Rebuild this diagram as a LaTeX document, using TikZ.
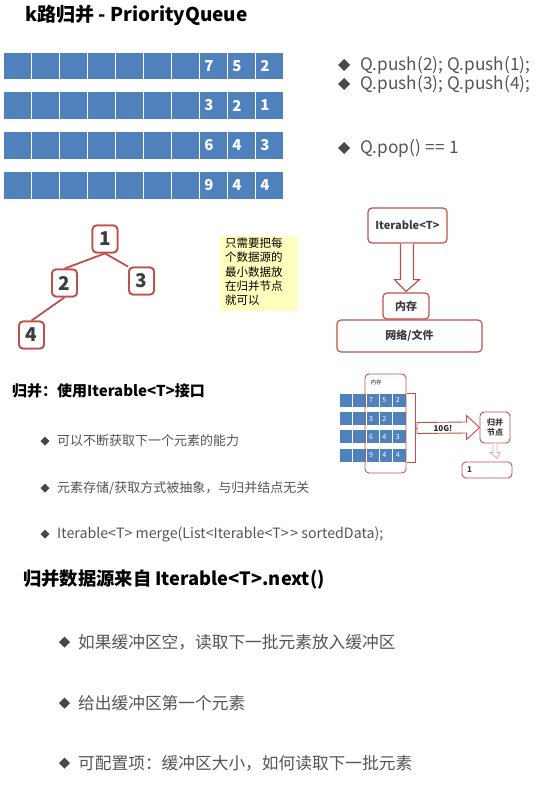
\documentclass[tikz,border=0pt]{standalone}
\usepackage{fontspec}
\setmainfont{Noto Sans CJK SC}[Ligatures=NoCommon]
\usetikzlibrary{calc}
\definecolor{cellblue}{RGB}{79,129,189}
\definecolor{nodered}{RGB}{192,80,77}
\definecolor{notey}{RGB}{255,255,190}
\definecolor{txtgray}{RGB}{85,85,85}
\definecolor{dark}{RGB}{40,40,40}
\tikzset{
  cell/.style={fill=cellblue, draw=white, line width=1pt, minimum width=28pt, minimum height=27.5pt, inner sep=0pt},
  digit/.style={text=white, font=\bfseries\fontsize{15}{15}\selectfont, inner sep=0pt},
  scell/.style={fill=cellblue, draw=white, line width=0.6pt, minimum width=13.4pt, minimum height=14pt, inner sep=0pt},
  sdigit/.style={text=white, font=\fontsize{7}{7}\selectfont, inner sep=0pt},
  treenode/.style={draw=nodered, line width=1.8pt, rounded corners=4pt, fill=white, minimum width=25pt, minimum height=27pt, inner sep=0pt, text=dark!90, font=\bfseries\fontsize{19}{19}\selectfont},
  treeedge/.style={draw=nodered, line width=1.8pt},
  redbox/.style={draw=nodered, line width=1.2pt, rounded corners=4pt, fill=white, inner sep=0pt, text=dark!90},
  txt/.style={anchor=west, inner sep=0pt},
  bul/.style={fill=dark!85, draw=none},
}
\newcommand{\diam}[3]{\fill[bul] (#1,#2) -- ++(#3,#3) -- ++(#3,-#3) -- ++(-#3,-#3) -- cycle;}
\begin{document}
\begin{tikzpicture}[x=1pt,y=-1pt]
\useasboundingbox (0,0) rectangle (546,797);
\fill[white] (0,0) rectangle (546,797);
% title
\node[txt] (title) at (25,15) {\bfseries\fontsize{19}{19}\selectfont k路归并 - PriorityQueue};
% big rows
\foreach \r/\yy/\a/\b/\c in {1/66/7/5/2, 2/105.5/3/2/1, 3/145.5/6/4/3, 4/185.5/9/4/4} {
  \foreach \i in {0,...,9} {
    \node[cell] (c\r-\i) at ({17+28*\i},\yy) {};
  }
  \node[digit] (d\r-7) at ($(c\r-7.center)+(-4,0)$) {\a};
  \node[digit] (d\r-8) at ($(c\r-8.center)+(-4,0)$) {\b};
  \node[digit] (d\r-9) at ($(c\r-9.center)+(-4,0)$) {\c};
}
% right bullets
\diam{338}{65}{6}
\diam{338}{84}{6}
\diam{338}{148}{6}
\node[txt, text=txtgray] (q1) at (360,65) {\fontsize{17.2}{17}\selectfont Q.push(2); Q.push(1);};
\node[txt, text=txtgray] (q2) at (360,84) {\fontsize{17.2}{17}\selectfont Q.push(3); Q.push(4);};
\node[txt, text=txtgray] (q3) at (360,148) {\fontsize{17.2}{17}\selectfont Q.pop()\kern1pt{} ==\kern1pt{} 1};
% tree
\node[treenode] (t1) at (105,239) {1};
\node[treenode] (t2) at (64.5,283) {2};
\node[treenode] (t3) at (141.5,281) {3};
\node[treenode] (t4) at (31.5,335) {4};
\draw[treeedge] (t1.south) -- (t3.north west);
\draw[treeedge] (t1.south) -- (t2.north);
\draw[treeedge] (t2.south) -- (t4.north);
\node[treenode] at (t1) {1};
\node[treenode] at (t2) {2};
\node[treenode] at (t3) {3};
\node[treenode] at (t4) {4};
% note
\node[fill=notey, minimum width=78pt, minimum height=75pt, inner sep=0pt] (note) at (259,273.5) {};
\node[anchor=north west, inner sep=0pt, align=left, text=black, font=\fontsize{11.5}{14.3}\selectfont] (notetxt) at (225,237.5) {只需要把每\\个数据源的\\最小数据放\\在归并节点\\就可以};
% iterable section
\node[redbox, minimum width=79pt, minimum height=35pt, font=\bfseries\fontsize{11}{11}\selectfont] (iter) at (407.5,225.5) {Iterable<T>};
\node[redbox, minimum width=145pt, minimum height=32pt, font=\bfseries\fontsize{11}{11}\selectfont] (net) at (409.5,336) {网络/文件};
\node[redbox, minimum width=46pt, minimum height=26pt, font=\bfseries\fontsize{11}{11}\selectfont] (mem) at (406,306) {内存};
\draw[draw=nodered, line width=1.2pt, fill=white] ($(iter.south)+(-7,0)$) -- ++(0,36) -- ++(-6,0) -- ($(mem.north)+(0,-1)$) -- ($(iter.south)+(12,36)$) -- ++(-6,0) -- ($(iter.south)+(6,0)$);
% small diagram
\foreach \r/\yy/\a/\b/\c in {1/400/7/5/2, 2/418.5/3/2/{}, 3/436.5/6/4/3, 4/455/9/4/4} {
  \foreach \i in {0,...,4} {
    \node[scell] (s\r-\i) at ({345.7+13.4*\i},\yy) {};
  }
  \node[sdigit] (sd\r-2) at ($(s\r-2.center)+(-1.5,0)$) {\a};
  \node[sdigit] (sd\r-3) at ($(s\r-3.center)+(-1.5,0)$) {\b};
  \node[sdigit] (sd\r-4) at ($(s\r-4.center)+(-1.5,0)$) {\c};
}
\node[draw=nodered, line width=0.9pt, rounded corners=4pt, minimum width=41pt, minimum height=99pt, inner sep=0pt] (smem) at (385.5,423.5) {};
\node[inner sep=0pt, font=\fontsize{5.5}{5.5}\selectfont, text=dark] (smemt) at (376,382) {内存};
\coordinate (brt) at (407,393);
\coordinate (brb) at (407,462);
\draw[draw=nodered, line width=0.9pt] (brt) -- ++(8,0) -- ++(0,69) -- (brb);
\node[redbox, line width=0.9pt, minimum width=30pt, minimum height=31pt, font=\bfseries\fontsize{8}{10}\selectfont, align=center] (gb) at (495,427.5) {归并\\节点};
\coordinate (arrs) at (415,428);
\draw[draw=nodered, line width=0.9pt, fill=white] ($(arrs)+(2,-5.5)$) -- ($(gb.west)+(-13,-5.5)$) -- ($(gb.west)+(-13,-12)$) -- (gb.west) -- ($(gb.west)+(-13,12)$) -- ($(gb.west)+(-13,5.5)$) -- ($(arrs)+(2,5.5)$) -- cycle;
\draw[draw=nodered, line width=0.9pt] (arrs) -- ++(2,0);
\node[inner sep=0pt, font=\bfseries\fontsize{8}{8}\selectfont, text=dark] (tenG) at (443,428) {10G!};
\node[redbox, line width=0.9pt, minimum width=50pt, minimum height=16pt, font=\bfseries\fontsize{8}{8}\selectfont, align=left, text width=40pt] (one) at (487,470) {1};
\draw[draw=nodered!50, line width=0.8pt, fill=white] ($(gb.south)+(-2,0)$) -- ++(0,9) -- ++(-3,0) -- ($(one.north)+(10,-3)$) -- ($(gb.south)+(5,9)$) -- ++(-3,0) -- ($(gb.south)+(2,0)$);
% left section
\node[txt, text=black] (h1) at (12,391) {\bfseries\fontsize{15}{15}\selectfont 归并：使用Iterable<T>接口};
\diam{40.5}{441}{4.5}
\diam{40.5}{488}{4.5}
\diam{40.5}{534}{4.5}
\node[txt, text=txtgray] (b1) at (57,441) {\fontsize{13}{13}\selectfont 可以不断获取下一个元素的能力};
\node[txt, text=txtgray] (b2) at (57,488) {\fontsize{13}{13}\selectfont 元素存储/获取方式被抽象，与归并结点无关};
\node[txt, text=txtgray] (b3) at (57,534) {\fontsize{14.2}{14}\selectfont Iterable<T> merge(List<Iterable<T>\kern1.5pt> sortedData);};
% bottom section
\node[txt, text=black] (h2) at (23,579) {\bfseries\fontsize{18.3}{18}\selectfont 归并数据源来自 Iterable<T>.next()};
\diam{59}{642}{5.5}
\diam{59}{703}{5.5}
\diam{59}{763}{5.5}
\node[txt, text=txtgray] (e1) at (78,642) {\fontsize{16.7}{16.7}\selectfont 如果缓冲区空，读取下一批元素放入缓冲区};
\node[txt, text=txtgray] (e2) at (78,703) {\fontsize{16.7}{16.7}\selectfont 给出缓冲区第一个元素};
\node[txt, text=txtgray] (e3) at (78,763) {\fontsize{16.7}{16.7}\selectfont 可配置项：缓冲区大小，如何读取下一批元素};
\end{tikzpicture}
\end{document}
